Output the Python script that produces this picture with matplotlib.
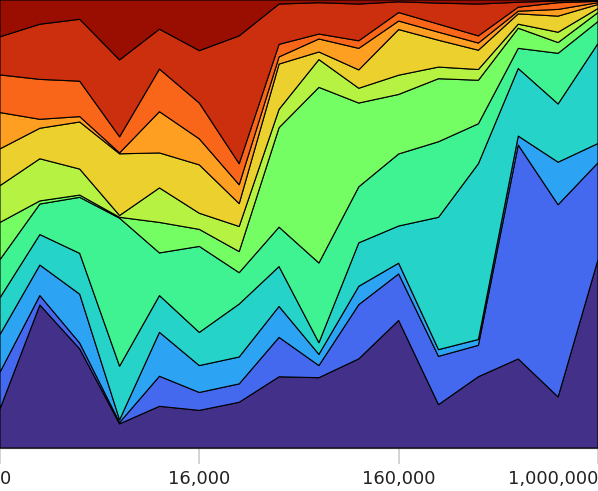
import numpy as np
import matplotlib as mpl
import matplotlib.pyplot as plt

mpl.use('Agg')

# 16 points along x, only four of them get a label
x_pos = list(range(16))
tick_pos = [0, 5, 10, 15]
tick_labels = ["0", "16,000", "160,000", "1,000,000"]

# share (%) of each layer, bottom to top
layer1 = [8.7, 31.9, 22.1, 5.4, 9.3, 8.4, 10.2, 15.9, 15.7, 19.9, 28.5, 9.7, 15.9, 19.9, 11.4, 42.0]
layer2 = [8.2, 2.1, 1.3, 0.3, 6.7, 4.0, 4.1, 8.8, 2.7, 12.1, 10.4, 10.8, 7.0, 47.8, 42.9, 21.6]
layer3 = [8.4, 6.8, 10.9, 0.6, 9.8, 6.0, 6.0, 6.9, 2.5, 4.1, 2.4, 1.5, 1.3, 2.0, 9.5, 4.3]
layer4 = [8.2, 6.8, 9.1, 12.0, 8.2, 7.4, 11.8, 8.9, 2.6, 9.7, 8.3, 29.6, 39.2, 15.1, 13.0, 22.3]
layer5 = [8.5, 6.8, 12.5, 33.1, 9.5, 19.2, 7.0, 8.8, 17.8, 12.5, 16.1, 16.9, 8.9, 4.5, 11.3, 4.9]
layer6 = [8.3, 0.7, 0.5, 0.2, 6.8, 3.8, 4.7, 22.2, 39.2, 18.7, 13.3, 14.1, 9.7, 4.5, 2.4, 2.0]
layer7 = [8.2, 9.4, 5.8, 0.4, 7.7, 3.6, 5.6, 4.1, 6.2, 3.3, 4.3, 2.6, 2.4, 0.9, 2.3, 0.9]
layer8 = [8.2, 6.8, 10.5, 13.8, 7.8, 10.8, 5.1, 10.1, 1.7, 4.1, 10.2, 6.0, 4.3, 2.3, 3.6, 0.9]
layer9 = [8.1, 2.0, 1.2, 0.2, 9.2, 5.8, 4.2, 1.6, 2.9, 4.8, 1.9, 1.8, 1.6, 0.6, 1.5, 0.4]
layer10 = [8.4, 8.9, 7.9, 3.6, 9.5, 8.0, 4.7, 2.8, 1.1, 1.7, 1.9, 1.8, 1.6, 0.9, 1.5, 0.3]
layer11 = [8.5, 12.3, 13.8, 17.2, 8.9, 11.7, 28.5, 9.0, 7.0, 8.2, 2.4, 4.7, 7.1, 1.1, 0.4, 0.2]
layer12 = [8.2, 5.4, 4.3, 13.4, 6.5, 11.3, 8.0, 0.9, 0.6, 0.9, 0.4, 0.7, 0.9, 0.5, 0.2, 0.1]

layers = np.array([layer1, layer2, layer3, layer4, layer5, layer6,
                   layer7, layer8, layer9, layer10, layer11, layer12])
layers = layers / layers.sum(axis=0)


def turbo(t):
    # polynomial turbo approximation (same as d3 interpolateTurbo)
    r = 34.61 + t * (1172.33 - t * (10793.56 - t * (33300.12 - t * (38394.49 - t * 14825.05))))
    g = 23.31 + t * (557.33 + t * (1225.33 - t * (3574.96 - t * (1073.77 + t * 707.56))))
    b = 27.2 + t * (3211.1 - t * (15327.97 - t * (27814 - t * (22569.18 - t * 6838.66))))
    return tuple(min(max(v, 0), 255) / 255 for v in (r, g, b))


n = len(layers)
colors = [turbo((i + 0.5) / n) for i in range(n)]

fig = plt.figure(figsize=(5.98, 4.91), dpi=100)
ax = fig.add_axes([0, 43 / 491, 1, 448 / 491])
ax.stackplot(x_pos, layers, colors=colors, edgecolor='black', linewidth=0.8)

ax.set_xlim(0, 15)
ax.set_ylim(0, 1)
ax.set_yticks([])
for side in ['top', 'right', 'left']:
    ax.spines[side].set_visible(False)
ax.spines['bottom'].set_color('#333333')
ax.spines['bottom'].set_linewidth(0.8)

ax.set_xticks(tick_pos)
ax.set_xticklabels(tick_labels, fontsize=13, color='#222222')
ax.tick_params(axis='x', length=11.5, width=1.2, color='#cccccc', pad=4)
labels = ax.get_xticklabels()
labels[0].set_ha('left')
labels[-1].set_ha('right')

fig.savefig('out.png', dpi=100)
